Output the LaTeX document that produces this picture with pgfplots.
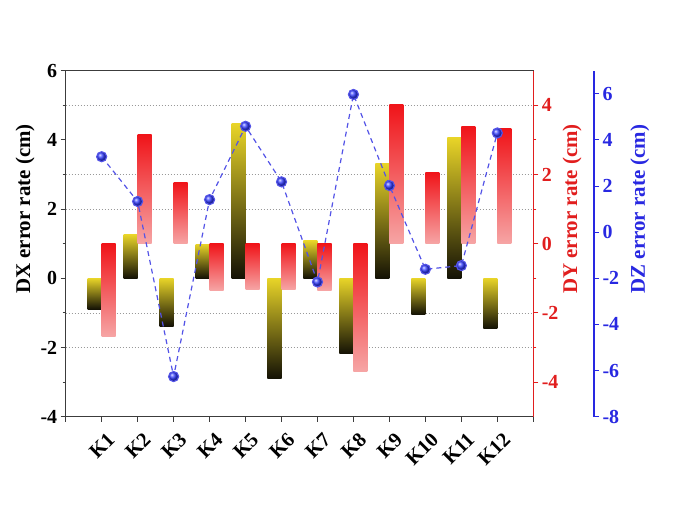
\documentclass[border=0pt]{standalone}
\usepackage{pgfplots}
\pgfplotsset{compat=1.18}
\usepackage{fontspec}
\setmainfont{Liberation Serif}
\definecolor{dxtop}{RGB}{232,212,40}
\definecolor{dxbot}{RGB}{20,18,5}
\definecolor{dytop}{RGB}{240,20,25}
\definecolor{dybot}{RGB}{246,165,165}
\definecolor{dzc}{RGB}{40,40,225}
\definecolor{dzball}{RGB}{50,60,255}
\definecolor{dyc}{RGB}{225,30,30}
\definecolor{axc}{RGB}{60,60,60}
\pgfplotsset{
  base/.style={scale only axis, width=467.6bp, height=346bp, xmin=0, xmax=13,
    /pgf/number format/assume math mode=true,
    tick label style={font=\fontsize{20}{22}\selectfont\bfseries},
    label style={font=\fontsize{21}{24}\selectfont\bfseries},
    tick align=outside, major tick length=5bp, minor tick length=3bp,
  },
  dxbar/.style={ybar, bar width=0.39, bar shift=-0.195, draw=none, top color=dxtop, bottom color=dxbot},
  dybar/.style={ybar, bar width=0.39, bar shift=0.195, draw=none, top color=dytop, bottom color=dybot},
}
\begin{document}
\begin{tikzpicture}
\path[use as bounding box] (-65.7bp,-111.3bp) rectangle (619.3bp,416.7bp);
% DX axis
\begin{axis}[base, ymin=-4, ymax=6, ytick={-4,-2,...,6}, minor y tick num=1,
  xtick={0,...,13}, xticklabels={,K1,K2,K3,K4,K5,K6,K7,K8,K9,K10,K11,K12,},
  xtick pos=bottom, ytick pos=left,
  axis line style={axc, line width=1.2bp}, tick style={axc, line width=1bp},
  xticklabel style={font=\fontsize{20.5}{22}\selectfont\bfseries, xshift=12bp, yshift=-12bp, rotate=45, anchor=east},
  extra y ticks={-2,-1,2,3,5}, extra y tick labels={},
  extra y tick style={grid=major, major tick length=0pt},
  major grid style={gray!80, dash pattern=on 1.5bp off 1.5bp, line width=0.6bp},
  ylabel={DX error rate (cm)},
  ylabel style={at={(axis description cs:-0.087,0.6)}, anchor=center}]
\addplot[dxbar] coordinates {(1,-0.89)};
\addplot[dxbar] coordinates {(2,1.26)};
\addplot[dxbar] coordinates {(3,-1.38)};
\addplot[dxbar] coordinates {(4,0.99)};
\addplot[dxbar] coordinates {(5,4.46)};
\addplot[dxbar] coordinates {(6,-2.89)};
\addplot[dxbar] coordinates {(7,1.08)};
\addplot[dxbar] coordinates {(8,-2.18)};
\addplot[dxbar] coordinates {(9,3.32)};
\addplot[dxbar] coordinates {(10,-1.04)};
\addplot[dxbar] coordinates {(11,4.06)};
\addplot[dxbar] coordinates {(12,-1.45)};
\end{axis}
% DY axis
\begin{axis}[base, ymin=-5, ymax=5, axis y line*=right, axis x line=none,
  ytick={-4,-2,...,4}, minor y tick num=1,
  y axis line style={dyc, line width=1bp}, ytick style={dyc, line width=1bp},
  yticklabel style={dyc},
  ylabel={DY error rate (cm)},
  ylabel style={dyc, at={(axis description cs:1.083,0.6)}, anchor=center}]
\addplot[dybar] coordinates {(1,-2.68)};
\addplot[dybar] coordinates {(2,3.15)};
\addplot[dybar] coordinates {(3,1.77)};
\addplot[dybar] coordinates {(4,-1.35)};
\addplot[dybar] coordinates {(5,-1.33)};
\addplot[dybar] coordinates {(6,-1.33)};
\addplot[dybar] coordinates {(7,-1.35)};
\addplot[dybar] coordinates {(8,-3.68)};
\addplot[dybar] coordinates {(9,4.03)};
\addplot[dybar] coordinates {(10,2.07)};
\addplot[dybar] coordinates {(11,3.39)};
\addplot[dybar] coordinates {(12,3.32)};
\end{axis}
% DZ axis (offset)
\begin{axis}[base, at={(60.7bp,0)}, ymin=-8, ymax=7, axis y line*=right, axis x line=none,
  ytick={-8,-6,...,6},
  y axis line style={dzc, line width=1.2bp}, ytick style={dzc, line width=1bp},
  yticklabel style={dzc},
  ylabel={DZ error rate (cm)},
  ylabel style={dzc, at={(axis description cs:1.098,0.6)}, anchor=center}]
\addplot[draw=none] coordinates {(1,0)};
\end{axis}
% DZ data
\begin{axis}[base, hide axis, ymin=-8, ymax=7, clip=false]
\addplot[color=dzc!80, dash pattern=on 5bp off 4bp, line width=1.2bp,
  mark=ball, mark size=5bp, mark options={solid, ball color=dzball}]
  coordinates {(1,3.27) (2,1.33) (3,-6.26) (4,1.41) (5,4.59) (6,2.18) (7,-2.16) (8,5.97) (9,2.02) (10,-1.61) (11,-1.45) (12,4.30)};
\end{axis}
\end{tikzpicture}
\end{document}
